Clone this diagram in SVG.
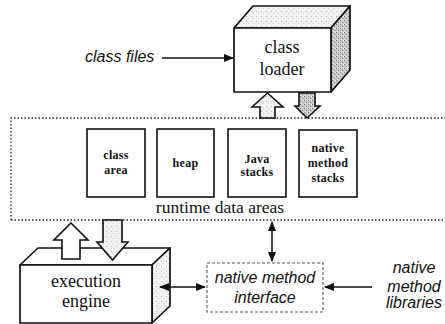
<svg xmlns="http://www.w3.org/2000/svg" width="445" height="324" viewBox="0 0 445 324">
  <defs>
    <!-- stippled fills for the shaded faces -->
    <pattern id="stipple-dark" width="4" height="4" patternUnits="userSpaceOnUse">
      <rect width="4" height="4" fill="#c9c9c9"/>
      <rect x="0" y="0" width="1" height="1" fill="#7a7a7a"/>
      <rect x="2" y="2" width="1" height="1" fill="#8a8a8a"/>
      <rect x="3" y="0" width="1" height="1" fill="#eeeeee"/>
      <rect x="1" y="3" width="1" height="1" fill="#eeeeee"/>
    </pattern>
    <pattern id="stipple-light" width="5" height="5" patternUnits="userSpaceOnUse">
      <rect width="5" height="5" fill="#f1f1f1"/>
      <rect x="1" y="1" width="1" height="1" fill="#bdbdbd"/>
      <rect x="3" y="3" width="1" height="1" fill="#d0d0d0"/>
    </pattern>
    <marker id="head" viewBox="0 0 10 10" refX="9" refY="5" markerWidth="7" markerHeight="7" orient="auto-start-reverse">
      <path d="M0,1 L10,5 L0,9 Z" fill="#111"/>
    </marker>
    <style>
      .edge { fill: none; stroke: #111; stroke-width: 1.5; }
      .solid { stroke: #111; stroke-width: 1.7; stroke-linejoin: round; }
      .face { fill: #ffffff; }
      .store { fill: #ffffff; stroke: #111; stroke-width: 1.6; }
      .serif { font-family: "Liberation Serif", "Times New Roman", serif; fill: #111; }
      .label { font-size: 18px; text-anchor: middle; }
      .small { font-size: 12px; font-weight: bold; text-anchor: middle; letter-spacing: 0.3px; }
      .ital { font-family: "Liberation Sans", Arial, sans-serif; font-style: italic; fill: #111; font-size: 16px; }
      .big-arrow { stroke: #111; stroke-width: 1.6; stroke-linejoin: miter; }
    </style>
  </defs>

  <!-- runtime data areas: dotted frame -->
  <g id="runtime-data-areas">
    <path d="M11,220 L11,118 L447,118 M11,220 L447,220" fill="none" stroke="#222" stroke-width="1.3" stroke-dasharray="1.5 2"/>
    <text class="serif" x="220" y="213" font-size="17.5" text-anchor="middle">runtime data areas</text>
  </g>

  <g id="class-area">
    <rect class="store" x="87" y="129" width="58" height="68"/>
    <text class="serif small" x="116" y="159" font-size="13">class</text>
    <text class="serif small" x="116" y="174" font-size="13">area</text>
  </g>
  <g id="heap">
    <rect class="store" x="157" y="129" width="57" height="68"/>
    <text class="serif small" x="185.5" y="167">heap</text>
  </g>
  <g id="java-stacks">
    <rect class="store" x="228" y="129" width="58" height="68"/>
    <text class="serif small" x="257" y="163">Java</text>
    <text class="serif small" x="257" y="176">stacks</text>
  </g>
  <g id="native-method-stacks">
    <rect class="store" x="299" y="130" width="58" height="67"/>
    <text class="serif small" x="328" y="152" font-size="11.5" letter-spacing="0">native</text>
    <text class="serif small" x="328" y="167" font-size="11.5" letter-spacing="0">method</text>
    <text class="serif small" x="328" y="182" font-size="11.5" letter-spacing="0">stacks</text>
  </g>

  <!-- class loader block -->
  <g id="class-loader">
    <polygon class="solid" points="234,28 253,6 350,6 331,28" fill="url(#stipple-light)"/>
    <polygon class="solid" points="331,28 350,6 350,70 331,92" fill="url(#stipple-dark)"/>
    <rect class="solid face" x="234" y="28" width="97" height="64"/>
    <text class="serif label" x="282" y="53">class</text>
    <text class="serif label" x="282" y="75">loader</text>
  </g>

  <!-- execution engine block -->
  <g id="execution-engine">
    <polygon class="solid" points="20,265 38,248 170,248 152,265" fill="#ffffff"/>
    <polygon class="solid" points="152,265 170,248 170,306 152,323" fill="url(#stipple-light)"/>
    <rect class="solid face" x="20" y="265" width="132" height="58"/>
    <text class="serif label" x="86" y="287" font-size="16.5">execution</text>
    <text class="serif label" x="86" y="307" font-size="16.5">engine</text>
  </g>

  <!-- native method interface -->
  <g id="native-method-interface">
    <rect x="207" y="263" width="116" height="49" fill="#ffffff" stroke="#555" stroke-width="1.1" stroke-dasharray="3 2"/>
    <text class="ital" x="265" y="283" text-anchor="middle">native method</text>
    <text class="ital" x="265" y="303" text-anchor="middle">interface</text>
  </g>

  <g id="class-files">
    <text class="ital" x="85" y="62">class files</text>
  </g>

  <g id="native-method-libraries">
    <text class="ital" x="414" y="273" text-anchor="middle" font-size="16.5">native</text>
    <text class="ital" x="414" y="292" text-anchor="middle" font-size="16.5">method</text>
    <text class="ital" x="414" y="308" text-anchor="middle" font-size="16.5">libraries</text>
  </g>

  <!-- connectors -->
  <g id="connectors">
    <!-- class loader <-> runtime data areas -->
    <polygon class="big-arrow" points="267.5,93 283,107 275,107 275,118 260,118 260,107 252,107" fill="url(#stipple-light)"/>
    <polygon class="big-arrow" points="299,93 315,93 315,106 320,106 307,118 295,106 299,106" fill="url(#stipple-dark)"/>
    <!-- runtime data areas <-> execution engine -->
    <polygon class="big-arrow" points="71,223 88,240 80,240 80,259 62,259 62,240 54,240" fill="#ffffff"/>
    <polygon class="big-arrow" points="103,220 122,220 122,242 128,242 112.5,260 97,242 103,242" fill="url(#stipple-light)"/>
    <!-- thin arrows -->
    <line class="edge" x1="162" y1="58" x2="233" y2="58" marker-end="url(#head)"/>
    <line class="edge" x1="272" y1="222" x2="272" y2="261" marker-start="url(#head)" marker-end="url(#head)"/>
    <line class="edge" x1="160" y1="287" x2="205" y2="287" marker-start="url(#head)" marker-end="url(#head)"/>
    <line class="edge" x1="372" y1="287" x2="325" y2="287" marker-end="url(#head)"/>
  </g>
</svg>
